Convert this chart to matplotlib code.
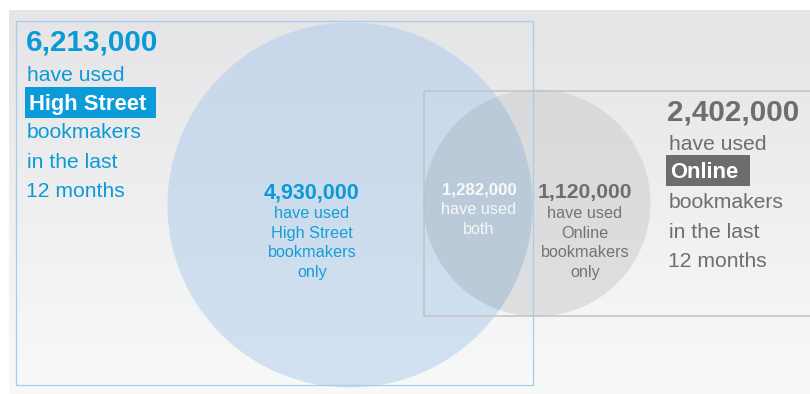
import numpy as np
import matplotlib.pyplot as plt
from matplotlib.patches import Circle, Rectangle

plt.rcParams['font.family'] = ['Liberation Sans', 'DejaVu Sans']

# bookmaker usage, last 12 months
high_street_total = 6213000
online_total = 2402000
high_street_only = 4930000
both_used = 1282000
online_only = 1120000

BLUE = '#0c9ad7'
GREY = '#6e6e70'

W, H = 810, 394
fig = plt.figure(figsize=(W / 100, H / 100), dpi=100)
ax = fig.add_axes([0, 0, 1, 1])
ax.set_xlim(0, W)
ax.set_ylim(H, 0)
ax.axis('off')

# soft grey backdrop panel
top = np.array([0.898, 0.898, 0.906])
bot = np.array([0.973, 0.976, 0.976])
t = np.linspace(0, 1, 256)[:, None, None]
grad = top * (1 - t) + bot * t
ax.imshow(grad, extent=(9, W, H, 10), aspect='auto', zorder=0)

# circle areas scale with the totals
px_per_root = 182.5 / np.sqrt(high_street_total)
r_hs = px_per_root * np.sqrt(high_street_total)
r_on = px_per_root * np.sqrt(online_total)

c_hs = Circle((350, 205), r_hs, facecolor='#abcbec', alpha=0.5,
              edgecolor='none', zorder=1)
c_on = Circle((537, 203), r_on, facecolor='#cdcdcf', alpha=0.55,
              edgecolor='none', zorder=2)
ax.add_patch(c_hs)
ax.add_patch(c_on)
lens = Circle((350, 205), r_hs, facecolor='#bacad8', edgecolor='none', zorder=3)
ax.add_patch(lens)
lens.set_clip_path(c_on)

# frames around each group
ax.add_patch(Rectangle((16, 21), 517, 364, fill=False, edgecolor='#a6cdec',
                       lw=0.9, zorder=4))
ax.add_patch(Rectangle((424, 91), 390, 225, fill=False, edgecolor='#c2c2c4',
                       lw=1.1, zorder=4))

# High Street block (left)
ax.text(26, 50, f'{high_street_total:,}', color=BLUE, fontsize=21.3,
        fontweight='bold', va='baseline', zorder=5)
ax.text(27, 81, 'have used', color=BLUE, fontsize=15.2, va='baseline', zorder=5)
ax.add_patch(Rectangle((25, 87), 131, 31, facecolor='#0a9bd8',
                       edgecolor='none', zorder=5))
ax.text(29, 109.5, 'High Street', color='white', fontsize=15.8,
        fontweight='bold', va='baseline', zorder=6)
ax.text(27, 138, 'bookmakers', color=BLUE, fontsize=15.2, va='baseline', zorder=5)
ax.text(27, 168, 'in the last', color=BLUE, fontsize=15.2, va='baseline', zorder=5)
ax.text(26, 197, '12 months', color=BLUE, fontsize=15.2, va='baseline', zorder=5)

# Online block (right)
ax.text(667, 120.5, f'{online_total:,}', color=GREY, fontsize=21.3,
        fontweight='bold', va='baseline', zorder=5)
ax.text(669, 150, 'have used', color=GREY, fontsize=15.2, va='baseline', zorder=5)
ax.add_patch(Rectangle((666, 155), 84, 31, facecolor='#6d6d6f',
                       edgecolor='none', zorder=5))
ax.text(670, 178, 'Online', color='white', fontsize=15.8,
        fontweight='bold', va='baseline', zorder=6)
ax.text(669, 208, 'bookmakers', color=GREY, fontsize=15.2, va='baseline', zorder=5)
ax.text(669, 238, 'in the last', color=GREY, fontsize=15.2, va='baseline', zorder=5)
ax.text(668, 267, '12 months', color=GREY, fontsize=15.2, va='baseline', zorder=5)

# labels inside the circles
def centre_label(x, y0, value, lines, color, big, small, alpha=1.0, step=20):
    ax.text(x, y0, f'{value:,}', color=color, fontsize=big, fontweight='bold',
            ha='center', va='baseline', alpha=alpha, zorder=5)
    for i, s in enumerate(lines):
        ax.text(x, y0 + step * (i + 1), s, color=color, fontsize=small,
                ha='center', va='baseline', alpha=alpha * 0.95, zorder=5)

centre_label(312, 198, high_street_only,
             ['have used', 'High Street', 'bookmakers', 'only'],
             BLUE, 15.5, 11.7, step=19.8)
centre_label(479, 194, both_used, ['have used', 'both'],
             'white', 12.2, 11.7, alpha=0.9)
centre_label(585, 198, online_only,
             ['have used', 'Online', 'bookmakers', 'only'],
             GREY, 15.2, 11.7, step=19.8)

fig.savefig('out.png', dpi=100)
